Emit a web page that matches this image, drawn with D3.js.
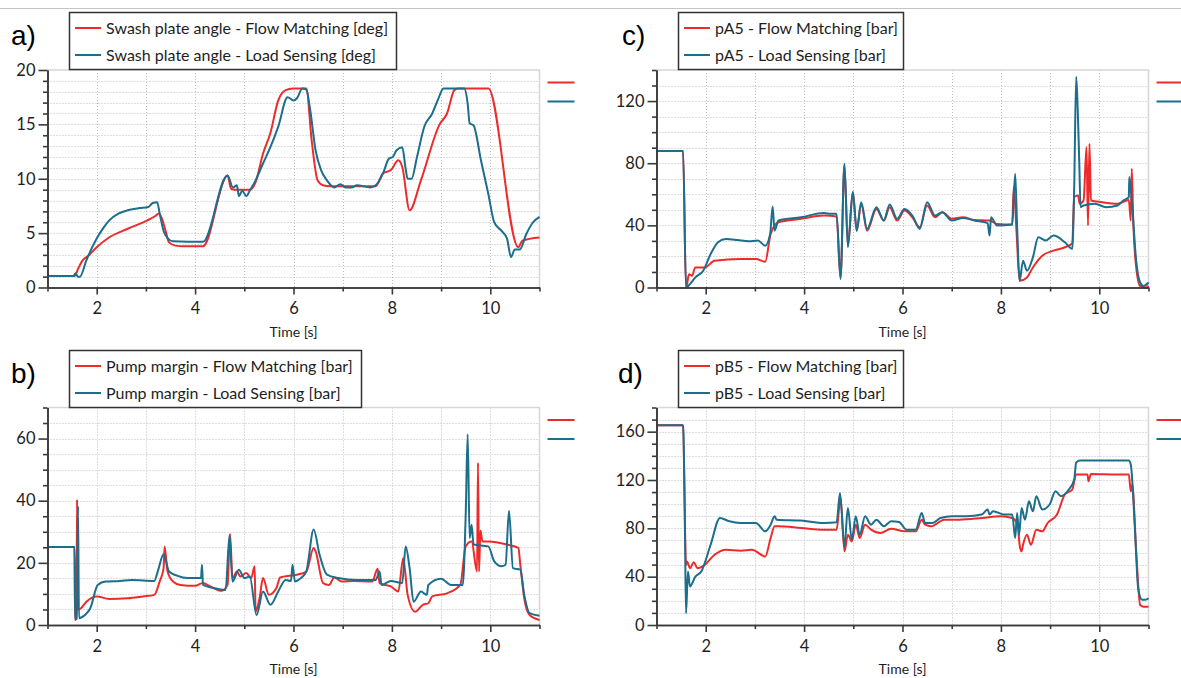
<!DOCTYPE html>
<html><head><meta charset="utf-8">
<script src="https://cdn.jsdelivr.net/npm/d3@7"></script>
<style>
html,body{margin:0;padding:0;background:#fff;}
svg{display:block;}
</style></head>
<body>
<svg id="chart" width="1181" height="678"></svg>
<script>
// ---------- DATA ----------
const xMajorTicks = [2, 4, 6, 8, 10];
const xMinorTicks = [1, 3, 5, 7, 9, 11];
const xGridTicks = [2, 3, 4, 5, 6, 7, 8, 9, 10];
const xAxisTitle = "Time [s]";

const legendA = ["Swash plate angle - Flow Matching [deg]", "Swash plate angle - Load Sensing [deg]"];
const legendB = ["Pump margin - Flow Matching [bar]", "Pump margin - Load Sensing [bar]"];
const legendC = ["pA5 - Flow Matching [bar]", "pA5 - Load Sensing [bar]"];
const legendD = ["pB5 - Flow Matching [bar]", "pB5 - Load Sensing [bar]"];

const yTicksA = [0, 5, 10, 15, 20];
const yTicksB = [0, 20, 40, 60];
const yTicksC = [0, 40, 80, 120];
const yTicksD = [0, 40, 80, 120, 160];

// [time s, value]
const swashFM = [[1,1.05],[1.55,1.05],[1.62,1.7],[1.7,2.4],[1.85,3.0],[2,3.7],[2.25,4.6],[2.63,5.4],[3.02,6.15],[3.2,6.6],[3.26,6.8],[3.32,6.4],[3.4,5.2],[3.47,4.15],[3.6,3.85],[3.75,3.8],[4.16,3.8],[4.66,10.3],[4.73,9.1],[4.8,9.0],[5.11,9.0],[5.23,9.7],[5.38,12.3],[5.53,14.2],[5.69,17.2],[5.84,18.15],[5.99,18.3],[6.26,18.3],[6.37,13.5],[6.49,9.85],[6.6,9.4],[6.75,9.3],[7.67,9.3],[7.82,10.5],[7.98,10.8],[8.13,11.7],[8.21,11.1],[8.36,7.1],[8.59,9.85],[8.97,15.0],[9.12,16.0],[9.27,18.15],[9.35,18.3],[9.96,18.3],[10.57,3.7],[10.65,4.3],[11,4.6]];
const swashLS = [[1,1.05],[1.53,1.05],[1.57,1.3],[1.62,1.0],[1.66,1.0],[1.79,2.5],[2.0,4.5],[2.14,5.5],[2.25,6.15],[2.44,6.8],[2.63,7.1],[2.86,7.3],[3.05,7.4],[3.13,7.75],[3.23,7.85],[3.28,6.8],[3.36,5.2],[3.44,4.55],[3.55,4.25],[4.16,4.2],[4.66,10.3],[4.77,9.2],[4.85,9.4],[4.89,8.4],[4.96,8.9],[5.04,8.4],[5.11,8.9],[5.23,9.85],[5.38,11.4],[5.53,12.9],[5.69,14.8],[5.88,17.5],[6.0,17.2],[6.07,17.4],[6.18,18.3],[6.26,18.2],[6.34,16.3],[6.45,12.6],[6.56,10.8],[6.68,9.85],[6.83,9.2],[6.95,9.5],[7.06,9.2],[7.18,9.2],[7.29,9.4],[7.56,9.2],[7.67,9.4],[7.82,10.5],[7.94,11.85],[8.02,12.0],[8.09,12.6],[8.21,12.9],[8.28,10.9],[8.32,10.0],[8.4,10.0],[8.51,12.0],[8.66,14.8],[8.82,16.0],[8.93,17.2],[9.05,18.3],[9.47,18.3],[9.54,16.9],[9.58,15.1],[9.66,14.9],[9.81,11.7],[9.96,8.6],[10.08,6.0],[10.23,5.2],[10.34,4.5],[10.42,2.8],[10.5,3.5],[10.6,3.5],[10.73,4.9],[10.87,6.0],[11,6.5]];

const marginFM = [[1,25.1],[1.55,25.1],[1.56,1.6],[1.59,2],[1.6,40.4],[1.62,5],[1.68,5.4],[1.79,7.5],[2.0,9.2],[2.25,8.4],[2.63,8.6],[2.94,9.2],[3.17,9.7],[3.28,14],[3.36,18.3],[3.38,25.3],[3.44,17.2],[3.55,14],[3.7,12.9],[4.0,12.6],[4.16,13.5],[4.31,12.4],[4.54,11],[4.66,12.9],[4.71,29.3],[4.76,15.1],[4.85,17.2],[4.92,15.6],[5.04,16.7],[5.14,15.1],[5.21,18.9],[5.23,4.3],[5.31,8.6],[5.38,15.1],[5.5,9.7],[5.65,11.8],[5.73,15.3],[5.95,15.9],[6.07,16.2],[6.26,17.2],[6.41,24.8],[6.45,23.7],[6.6,13.5],[6.72,12.9],[6.83,15.3],[6.98,14],[7.21,14.2],[7.6,14],[7.71,18.1],[7.75,13.5],[7.98,12.4],[8.13,10.8],[8.23,21.5],[8.32,9.7],[8.47,4.3],[8.63,6.5],[8.74,7],[8.82,9.2],[9.12,10.2],[9.39,12.9],[9.5,25.3],[9.62,26.9],[9.73,17.2],[9.75,52.2],[9.77,17.2],[9.8,30.4],[9.84,26.9],[9.96,26.9],[10.34,25.9],[10.57,24.8],[10.61,19.4],[10.69,8.6],[10.8,3.2],[11,1.6]];
const marginLS = [[1,25.1],[1.55,25.1],[1.56,2],[1.6,2],[1.62,38.2],[1.64,2.2],[1.76,3.2],[1.87,5.4],[2.02,12.9],[2.18,14],[2.48,14.2],[2.71,14.5],[3.17,14.2],[3.24,17.2],[3.36,22.8],[3.47,17.2],[3.63,15.9],[3.85,15.1],[4.12,15.1],[4.14,19.4],[4.16,12.9],[4.47,11.6],[4.62,11.3],[4.7,29],[4.76,14],[4.89,17.8],[5,15.1],[5.11,15.6],[5.25,3.2],[5.38,10.8],[5.53,6.5],[5.69,10.8],[5.84,14.5],[5.95,14.2],[5.98,19.4],[6.03,14],[6.15,15.1],[6.26,17.2],[6.41,30.7],[6.53,22.6],[6.68,16.2],[6.91,15.1],[7.29,14.5],[7.67,14.5],[7.75,17.2],[7.79,12.9],[7.98,14.2],[8.21,13.5],[8.28,25.3],[8.36,18.3],[8.44,7.5],[8.59,10.8],[8.71,9.7],[8.74,12.9],[9.0,14.9],[9.2,12.9],[9.44,12.9],[9.5,35.5],[9.54,61.4],[9.58,28],[9.62,32.3],[9.66,25.9],[9.96,25.3],[10.08,20.5],[10.23,18.9],[10.31,19.4],[10.38,36.8],[10.46,18.3],[10.61,17.8],[10.69,9.7],[10.8,3.8],[11,3]];

const pA5FM = [[1,87.9],[1.54,87.9],[1.6,0],[1.62,2],[1.66,8.6],[1.72,7.5],[1.79,12.9],[1.98,12.9],[2.18,17.2],[2.71,18.3],[3.02,18.3],[3.21,16.6],[3.32,34.5],[3.48,42],[3.94,44.2],[4.4,46.3],[4.66,45.7],[4.74,6.5],[4.82,78.6],[4.89,26.9],[4.99,61.4],[5.07,36.6],[5.16,53.9],[5.28,36.6],[5.47,50.6],[5.62,43.1],[5.74,51.7],[5.89,43.1],[6.04,49.5],[6.2,45.2],[6.35,38.8],[6.5,52.8],[6.66,45.2],[6.81,48.5],[7.0,44.2],[7.23,45.2],[7.46,43.5],[7.77,43.1],[7.92,40.9],[8.23,40.5],[8.26,64.6],[8.32,34.5],[8.38,4.3],[8.53,6.5],[8.65,12.9],[8.84,20.5],[9.07,23.7],[9.3,25.9],[9.45,28.4],[9.49,58.2],[9.57,59.2],[9.6,53.9],[9.68,56],[9.74,90.5],[9.77,39.9],[9.8,92.6],[9.83,56],[10.06,54.9],[10.37,53.9],[10.6,56.4],[10.64,43.1],[10.66,76.5],[10.69,43],[10.75,12.9],[10.83,1],[10.94,0],[11,1]];
const pA5LS = [[1,87.9],[1.54,87.9],[1.6,0],[1.68,2.2],[1.79,6.5],[1.95,10.8],[2.1,21.5],[2.25,29.1],[2.41,31.2],[2.64,30.6],[2.87,29.7],[3.06,30.2],[3.21,26.9],[3.31,34.5],[3.36,52.1],[3.4,36.6],[3.48,43.1],[3.94,45.2],[4.4,48],[4.55,47.4],[4.66,47.4],[4.74,5.4],[4.82,79.7],[4.89,25.9],[4.99,61.4],[5.07,36.6],[5.16,54.9],[5.28,37.7],[5.47,51.7],[5.62,43.1],[5.74,53.4],[5.89,44.2],[6.04,50.6],[6.2,46.3],[6.35,37.7],[6.5,54.9],[6.66,46.3],[6.81,48.5],[7.0,43.1],[7.23,44.8],[7.46,43.1],[7.73,41.4],[7.77,33.4],[7.8,45.2],[7.92,39.9],[8.23,40.5],[8.29,73.2],[8.33,38.8],[8.38,4.3],[8.45,17.2],[8.53,10.8],[8.65,19.4],[8.76,32.3],[8.91,30.2],[9.07,33.4],[9.3,29.1],[9.45,24.8],[9.49,64.6],[9.53,135.7],[9.56,116],[9.59,84],[9.62,51.7],[9.68,52.8],[9.91,53.9],[10.14,51.7],[10.37,52.8],[10.49,56],[10.6,58.2],[10.61,71.1],[10.66,56],[10.75,17.2],[10.83,3.2],[10.9,1],[11,3.2]];

const pB5FM = [[1,165.3],[1.54,165.3],[1.6,49.8],[1.62,52.6],[1.68,47],[1.76,52],[1.83,47],[1.98,49.8],[2.18,58.1],[2.41,62.3],[2.71,61.5],[2.94,62.3],[3.21,56.7],[3.32,72],[3.4,81.7],[3.48,81.7],[3.94,80.3],[4.4,78.9],[4.66,78.9],[4.74,105],[4.82,60.9],[4.89,74.7],[4.97,69.2],[5.05,83],[5.13,72],[5.24,83],[5.36,78.9],[5.55,76.1],[5.77,79.7],[6.04,77.5],[6.27,77.5],[6.39,87.2],[6.46,83],[6.58,81.7],[6.85,87.2],[7.16,87.2],[7.62,88.6],[8.0,90],[8.23,88.6],[8.34,83],[8.38,66.4],[8.42,60.9],[8.45,66.4],[8.53,74.7],[8.61,66.4],[8.72,78.9],[8.84,77.5],[8.95,84.4],[9.14,91.4],[9.3,108],[9.45,112],[9.53,124.6],[9.76,124.6],[9.78,119],[9.83,125],[10.37,124.6],[10.6,124.6],[10.64,110.7],[10.67,116],[10.75,60.9],[10.83,16.6],[10.9,15.2],[11,15.2]];
const pB5LS = [[1,165.3],[1.54,165.3],[1.55,157.8],[1.58,72],[1.6,9.7],[1.64,44.3],[1.68,31.8],[1.79,40.1],[1.91,44.3],[2.1,66.4],[2.29,88.6],[2.48,85.8],[2.71,84.4],[3.02,84.4],[3.21,77.5],[3.32,83],[3.4,90],[3.44,87.2],[3.94,86.4],[4.4,84.4],[4.66,85],[4.73,109.3],[4.82,65],[4.89,96.9],[4.97,70.6],[5.05,90],[5.13,74.7],[5.24,90],[5.36,83],[5.47,87.2],[5.62,81.7],[5.77,85.8],[5.93,85.3],[6.08,78.9],[6.27,78.9],[6.39,92.7],[6.46,84.4],[6.61,84.4],[6.77,88.6],[7.0,90],[7.3,90],[7.61,91.4],[7.73,95.5],[7.77,91.4],[7.84,94.1],[8.07,91.4],[8.23,91.4],[8.29,72],[8.33,92.7],[8.37,74.7],[8.42,96.9],[8.49,87.2],[8.57,102.4],[8.65,94.1],[8.72,106.6],[8.84,95.5],[8.99,99.7],[9.11,110.7],[9.22,106.6],[9.38,112.1],[9.49,120.4],[9.53,134.3],[9.6,136.2],[10.6,136.2],[10.64,132.9],[10.72,83],[10.79,30.4],[10.87,20.8],[10.94,20.8],[11,22.1]];

// ---------- STYLE ----------
const RED = "#ee2b2b";
const TEAL = "#1b6e8c";
const FONT = "Lato, 'Open Sans', sans-serif";

const svg = d3.select("#chart");

// top separator
svg.append("line").attr("x1", 0).attr("x2", 1181).attr("y1", 8.5).attr("y2", 8.5)
  .attr("stroke", "#c4c4c4").attr("stroke-width", 1);

function drawPanel(cfg) {
  const x = d3.scaleLinear().domain([1, 11]).range([cfg.x0, cfg.x1]);
  const y = d3.scaleLinear().domain([0, cfg.ymax]).range([cfg.y1, cfg.y0]);
  const g = svg.append("g");

  g.append("rect").attr("x", cfg.x0).attr("y", cfg.y0)
    .attr("width", cfg.x1 - cfg.x0).attr("height", cfg.y1 - cfg.y0).attr("fill", "#fff");

  const minorVals = d3.range(cfg.minor, cfg.ymax + 0.001, cfg.minor);
  // horizontal grid
  g.selectAll(null).data(minorVals.filter(v => v < cfg.ymax - 0.001)).enter().append("line")
    .attr("x1", cfg.x0).attr("x2", cfg.x1)
    .attr("y1", d => Math.round(y(d)) + 0.5).attr("y2", d => Math.round(y(d)) + 0.5)
    .attr("stroke", "#bdbdbd").attr("stroke-width", 1).attr("stroke-dasharray", "1,2");
  // vertical grid
  g.selectAll(null).data(xGridTicks).enter().append("line")
    .attr("y1", cfg.y0).attr("y2", cfg.y1)
    .attr("x1", d => Math.round(x(d)) + 0.5).attr("x2", d => Math.round(x(d)) + 0.5)
    .attr("stroke", "#bdbdbd").attr("stroke-width", 1).attr("stroke-dasharray", "1,2");

  // top & right border
  g.append("path")
    .attr("d", `M${cfg.x0},${cfg.y0}H${cfg.x1}V${cfg.y1}`)
    .attr("fill", "none").attr("stroke", "#d6d6d6").attr("stroke-width", 1.5);

  // data lines
  const line = d3.line().x(d => x(d[0])).y(d => y(d[1])).curve(d3.curveMonotoneX);
  g.append("path").datum(cfg.fm).attr("d", line)
    .attr("fill", "none").attr("stroke", RED).attr("stroke-width", 2).attr("stroke-linejoin", "round");
  g.append("path").datum(cfg.ls).attr("d", line)
    .attr("fill", "none").attr("stroke", TEAL).attr("stroke-width", 2).attr("stroke-linejoin", "round");

  // axes
  const majorSet = new Set(cfg.yTicks);
  const yMinorAxis = d3.axisLeft(y).tickValues(minorVals.filter(v => !majorSet.has(Math.round(v * 1000) / 1000)))
    .tickSize(4.5).tickSizeOuter(0).tickFormat("");
  const yMajorAxis = d3.axisLeft(y).tickValues(cfg.yTicks).tickSize(9).tickSizeOuter(0).tickPadding(3);
  const xMinorAxis = d3.axisBottom(x).tickValues(xMinorTicks).tickSize(4).tickSizeOuter(0).tickFormat("");
  const xMajorAxis = d3.axisBottom(x).tickValues(xMajorTicks).tickSize(7).tickSizeOuter(0).tickPadding(8);

  const styleAxis = sel => {
    sel.selectAll("path,line").attr("stroke", "#3a3a3a").attr("stroke-width", 1.6);
    sel.selectAll("text").attr("fill", "#1e1e1e").style("font-family", FONT).style("font-size", "16.5px");
  };
  g.append("g").attr("transform", `translate(${cfg.x0},0)`).call(yMinorAxis).call(styleAxis);
  g.append("g").attr("transform", `translate(${cfg.x0},0)`).call(yMajorAxis).call(styleAxis);
  g.append("g").attr("transform", `translate(0,${cfg.y1})`).call(xMinorAxis).call(styleAxis);
  g.append("g").attr("transform", `translate(0,${cfg.y1})`).call(xMajorAxis).call(styleAxis);

  // axis title
  g.append("text").attr("x", (cfg.x0 + cfg.x1) / 2).attr("y", cfg.y1 + 49)
    .attr("text-anchor", "middle").style("font-family", FONT).style("font-size", "14px")
    .attr("fill", "#1e1e1e").text(xAxisTitle);

  // legend box
  const lb = cfg.legendBox;
  g.append("rect").attr("x", lb[0] + 0.5).attr("y", lb[1] + 0.5).attr("width", lb[2]).attr("height", lb[3])
    .attr("fill", "#fff").attr("stroke", "#333").attr("stroke-width", 1.5);
  [RED, TEAL].forEach((c, i) => {
    const cy = lb[1] + 16 + i * 27;
    g.append("line").attr("x1", lb[0] + 6).attr("x2", lb[0] + 32).attr("y1", cy).attr("y2", cy)
      .attr("stroke", c).attr("stroke-width", 2);
    g.append("text").attr("x", lb[0] + 37).attr("y", cy + 5.5)
      .style("font-family", FONT).style("font-size", "16px").attr("fill", "#1e1e1e")
      .text(cfg.legend[i]);
  });

  // outside legend marks
  [RED, TEAL].forEach((c, i) => {
    const cy = cfg.y0 + 12.5 + i * 19;
    g.append("line").attr("x1", cfg.x1 + 8).attr("x2", cfg.x1 + 35).attr("y1", cy).attr("y2", cy)
      .attr("stroke", c).attr("stroke-width", 2);
  });

  // panel label
  g.append("text").attr("x", cfg.lx).attr("y", cfg.ly)
    .style("font-family", "'Liberation Sans', Arial, sans-serif").style("font-size", "28px")
    .attr("fill", "#000").text(cfg.label);
}

drawPanel({x0: 47.5, x1: 539.5, y0: 70, y1: 287.5, ymax: 20, minor: 1, yTicks: yTicksA,
  fm: swashFM, ls: swashLS, legend: legendA, legendBox: [69, 12, 327, 57], label: "a)", lx: 11, ly: 45});
drawPanel({x0: 47.5, x1: 539.5, y0: 407.5, y1: 625, ymax: 70, minor: 5, yTicks: yTicksB,
  fm: marginFM, ls: marginLS, legend: legendB, legendBox: [69, 350, 292, 57], label: "b)", lx: 11, ly: 383});
drawPanel({x0: 656.5, x1: 1148.5, y0: 70, y1: 287.5, ymax: 140, minor: 10, yTicks: yTicksC,
  fm: pA5FM, ls: pA5LS, legend: legendC, legendBox: [678, 12, 225, 57], label: "c)", lx: 622, ly: 45});
drawPanel({x0: 656.5, x1: 1148.5, y0: 407.5, y1: 625, ymax: 180, minor: 10, yTicks: yTicksD,
  fm: pB5FM, ls: pB5LS, legend: legendD, legendBox: [678, 350, 225, 57], label: "d)", lx: 618, ly: 383});
</script>
</body></html>
